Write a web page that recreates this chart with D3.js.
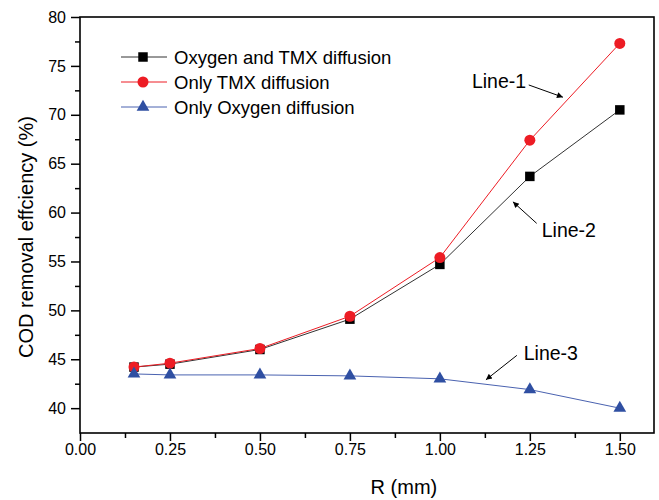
<!DOCTYPE html>
<meta charset="utf-8">
<script src="https://d3js.org/d3.v7.min.js"></script>
<style>
  body { margin: 0; background: #fff; }
  text { font-family: "Liberation Sans", Arial, sans-serif; fill: #000; }
</style>
<div id="chart"></div>
<script>

// data
var rValues = [0.15, 0.25, 0.50, 0.75, 1.00, 1.25, 1.50];
var oxygenAndTmx = [44.2, 44.5, 46.0, 49.1, 54.7, 63.7, 70.5];
var onlyTmx = [44.2, 44.6, 46.1, 49.4, 55.4, 67.4, 77.3];
var onlyOxygen = [43.5, 43.4, 43.4, 43.3, 43.0, 41.9, 40.0];
var seriesNames = ["Oxygen and TMX diffusion", "Only TMX diffusion", "Only Oxygen diffusion"];
var xTicks = [0, 0.25, 0.5, 0.75, 1.0, 1.25, 1.5];
var yTicks = [40, 45, 50, 55, 60, 65, 70, 75, 80];
// annotations in data units: label position, arrow start, arrow end
var notes = [
  {text: "Line-1", x: 1.089, y: 72.7, x1: 1.247, y1: 73.05, x2: 1.342, y2: 71.8},
  {text: "Line-2", x: 1.283, y: 57.5, x1: 1.269, y1: 58.9, x2: 1.203, y2: 61.1},
  {text: "Line-3", x: 1.233, y: 44.9, x1: 1.214, y1: 45.4, x2: 1.128, y2: 42.9}
];

var margin = {top: 17, right: 5, bottom: 67, left: 80},
    width = 659 - margin.left - margin.right,
    height = 500 - margin.top - margin.bottom;

var svg = d3.select("#chart")
  .append("svg")
    .attr("width", 659)
    .attr("height", 500);

var defs = svg.append("defs");
defs.append("marker")
    .attr("id", "arrow")
    .attr("viewBox", "0 0 10 10")
    .attr("refX", 10).attr("refY", 5)
    .attr("markerWidth", 10).attr("markerHeight", 6)
    .attr("markerUnits", "userSpaceOnUse")
    .attr("orient", "auto")
  .append("path")
    .attr("d", "M0,0 L10,5 L0,10 Z")
    .attr("fill", "#000");

var g = svg.append("g")
    .attr("transform", "translate(" + margin.left + "," + margin.top + ")");

var x = d3.scaleLinear().domain([0, 1.595]).range([0, width]);
var y = d3.scaleLinear().domain([37.46, 80]).range([height, 0]);

// minor ticks
g.append("g")
  .attr("transform", "translate(0," + height + ")")
  .call(d3.axisBottom(x).tickValues(d3.range(0.125, 1.6, 0.25)).tickSize(5).tickFormat(""))
  .call(function(a) { a.select(".domain").remove(); });
g.append("g")
  .call(d3.axisLeft(y).tickValues(d3.range(42.5, 80, 5)).tickSize(5).tickFormat(""))
  .call(function(a) { a.select(".domain").remove(); });

// major ticks
var xAxis = g.append("g")
  .attr("transform", "translate(0," + height + ")")
  .call(d3.axisBottom(x).tickValues(xTicks).tickSize(8).tickPadding(3).tickFormat(d3.format(".2f")));
var yAxis = g.append("g")
  .call(d3.axisLeft(y).tickValues(yTicks).tickSize(9).tickPadding(5).tickFormat(d3.format("d")));

[xAxis, yAxis].forEach(function(a) {
  a.select(".domain").remove();
  a.selectAll("text").style("font-size", "16px").attr("fill", "#000");
});
g.selectAll(".tick line").attr("stroke", "#000").attr("stroke-width", 1.5);

// frame
g.append("rect")
  .attr("width", width).attr("height", height)
  .attr("fill", "none").attr("stroke", "#000").attr("stroke-width", 1.6);

// axis titles
svg.append("text")
  .attr("x", margin.left + x(0.9)).attr("y", 494)
  .attr("text-anchor", "middle")
  .style("font-size", "20px")
  .text("R (mm)");
svg.append("text")
  .attr("transform", "translate(33," + (margin.top + y(57.5)) + ") rotate(-90)")
  .attr("text-anchor", "middle")
  .style("font-size", "20px")
  .text("COD removal effciency (%)");

var series = [
  {name: seriesNames[0], values: oxygenAndTmx, color: "#000", line: "#333", shape: d3.symbolSquare, size: 90},
  {name: seriesNames[1], values: onlyTmx, color: "#ed1c24", line: "#ed1c24", shape: d3.symbolCircle, size: 95},
  {name: seriesNames[2], values: onlyOxygen, color: "#2f4fa2", line: "#4a62b0", shape: d3.symbolTriangle, size: 70}
];

var line = d3.line()
  .x(function(d, i) { return x(rValues[i]); })
  .y(function(d) { return y(d); });

series.forEach(function(s) {
  g.append("path")
    .datum(s.values)
    .attr("fill", "none")
    .attr("stroke", s.line)
    .attr("stroke-width", 1)
    .attr("d", line);
});
// draw markers after lines, black first so red sits on top
series.forEach(function(s) {
  g.selectAll(null)
    .data(s.values)
    .enter().append("path")
      .attr("transform", function(d, i) { return "translate(" + x(rValues[i]) + "," + y(d) + ")"; })
      .attr("d", d3.symbol().type(s.shape).size(s.size))
      .attr("fill", s.color);
});

// legend
var legend = svg.append("g");
series.forEach(function(s, i) {
  var row = legend.append("g").attr("transform", "translate(121," + (57 + i * 25) + ")");
  row.append("line")
    .attr("x1", 0).attr("x2", 46)
    .attr("stroke", s.line).attr("stroke-width", 1);
  row.append("path")
    .attr("transform", "translate(22,0)")
    .attr("d", d3.symbol().type(s.shape).size(s.size))
    .attr("fill", s.color);
  row.append("text")
    .attr("x", 53).attr("y", 6.5)
    .style("font-size", "18.5px")
    .text(s.name);
});

// line annotations
notes.forEach(function(n) {
  g.append("text")
    .attr("x", x(n.x)).attr("y", y(n.y))
    .style("font-size", "19.5px")
    .text(n.text);
  g.append("line")
    .attr("x1", x(n.x1)).attr("y1", y(n.y1))
    .attr("x2", x(n.x2)).attr("y2", y(n.y2))
    .attr("stroke", "#000").attr("stroke-width", 1)
    .attr("marker-end", "url(#arrow)");
});

</script>
